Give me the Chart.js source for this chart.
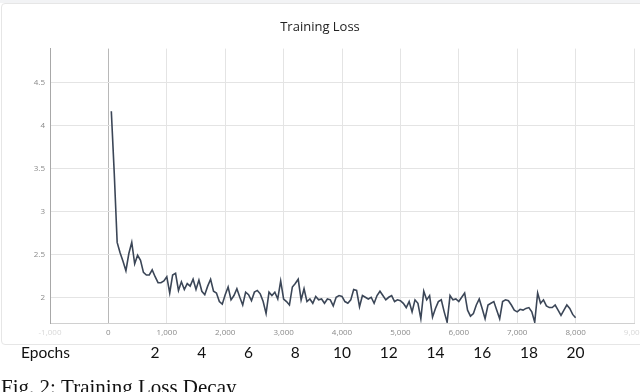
<!DOCTYPE html>
<html>
<head>
<meta charset="utf-8">
<script src="https://cdn.jsdelivr.net/npm/chart.js@4.4.1/dist/chart.umd.min.js"></script>
<style>
  html, body { margin: 0; padding: 0; background: #ffffff; }
  body { width: 640px; height: 392px; position: relative; overflow: hidden; }
  #strip { position: absolute; left: 0; top: 0; width: 640px; height: 3px; background: #f2f3f5; }
  #card { position: absolute; left: 1px; top: 3px; width: 700px; height: 340px; border: 1px solid #e6e6e6; border-radius: 4px; background: #fff; }
  #c { position: absolute; left: 0; top: 0; }
</style>
</head>
<body>
<div id="strip"></div>
<div id="card"></div>
<canvas id="c" width="640" height="392"></canvas>
<script>
// ---- data ----
const chartTitle = "Training Loss";
const steps = [50,100,150,200,250,300,350,400,450,500,550,600,650,700,750,800,850,900,950,1000,
  1050,1100,1150,1200,1250,1300,1350,1400,1450,1500,1550,1600,1650,1700,1750,1800,1850,1900,1950,2000,
  2050,2100,2150,2200,2250,2300,2350,2400,2450,2500,2550,2600,2650,2700,2750,2800,2850,2900,2950,3000,
  3050,3100,3150,3200,3250,3300,3350,3400,3450,3500,3550,3600,3650,3700,3750,3800,3850,3900,3950,4000,
  4050,4100,4150,4200,4250,4300,4350,4400,4450,4500,4550,4600,4650,4700,4750,4800,4850,4900,4950,5000,
  5050,5100,5150,5200,5250,5300,5350,5400,5450,5500,5550,5600,5650,5700,5750,5800,5850,5900,5950,6000,
  6050,6100,6150,6200,6250,6300,6350,6400,6450,6500,6550,6600,6650,6700,6750,6800,6850,6900,6950,7000,
  7050,7100,7150,7200,7250,7300,7350,7400,7450,7500,7550,7600,7650,7700,7750,7800,7850,7900,7950,8000];
const loss = [4.17,3.45,2.64,2.52,2.42,2.31,2.51,2.64,2.39,2.49,2.43,2.29,2.26,2.26,2.32,2.24,2.17,2.17,2.19,2.24,
  2.05,2.26,2.28,2.08,2.18,2.09,2.16,2.13,2.21,2.09,2.20,2.07,2.03,2.13,2.21,2.07,2.05,1.95,1.92,2.03,
  2.12,1.97,2.02,2.10,2.00,1.91,2.06,2.03,1.96,2.06,2.08,2.04,1.95,1.81,2.06,2.02,2.06,1.98,2.19,1.98,
  1.95,1.91,2.12,2.16,2.21,1.97,2.10,1.95,1.98,1.93,2.01,1.97,1.98,1.93,1.98,1.97,1.90,2.00,2.02,2.01,
  1.95,1.93,1.97,2.09,2.08,1.89,2.02,2.00,1.98,2.00,1.93,2.02,2.07,2.02,1.97,2.00,2.02,1.95,1.97,1.96,
  1.93,1.88,1.95,1.83,1.97,1.93,1.75,2.07,1.97,2.02,1.77,1.87,1.95,1.97,1.83,1.71,2.02,1.97,1.98,1.95,
  2.00,2.05,1.85,1.78,1.81,1.91,1.98,1.87,1.75,1.91,1.93,1.95,1.85,1.75,1.95,1.97,1.96,1.91,1.85,1.83,
  1.86,1.85,1.87,1.88,1.83,1.71,2.05,1.93,1.97,1.90,1.88,1.88,1.91,1.85,1.79,1.85,1.91,1.87,1.80,1.76];
const xRange = [-1000, 9000];
const xTickStep = 1000;
const yRange = [1.7, 4.9];
const yTickStep = 0.5;
const epochRowLabel = "Epochs";
const epochs = [2,4,6,8,10,12,14,16,18,20];
const stepsPerEpoch = 400;
const caption = "Fig. 2: Training Loss Decay";

// ---- chart ----
const points = steps.map((s, i) => ({ x: s, y: loss[i] }));

const epochRow = {
  id: 'epochRow',
  afterDraw(chart) {
    const ctx = chart.ctx;
    const xs = chart.scales.x;
    ctx.save();
    ctx.fillStyle = '#111111';
    ctx.font = '15.5px Lato';
    ctx.textBaseline = 'alphabetic';
    ctx.textAlign = 'left';
    ctx.fillText(epochRowLabel, 21, 358);
    ctx.textAlign = 'center';
    epochs.forEach(e => ctx.fillText(String(e), xs.getPixelForValue(e * stepsPerEpoch), 358));
    ctx.textAlign = 'left';
    ctx.font = '21px "Liberation Serif"';
    ctx.fillText(caption, 1, 394);
    ctx.restore();
  }
};

Chart.defaults.font.family = '"Open Sans", "Noto Sans", sans-serif';

new Chart(document.getElementById('c'), {
  type: 'line',
  data: {
    datasets: [{
      data: points,
      borderColor: '#3b4657',
      borderWidth: 1.6,
      pointRadius: 0,
      tension: 0,
      fill: false
    }]
  },
  options: {
    responsive: false,
    animation: false,
    layout: { padding: { left: 0, right: 0, top: 0, bottom: 49 } },
    plugins: {
      legend: { display: false },
      tooltip: { enabled: false },
      title: {
        display: true,
        text: chartTitle,
        color: '#222222',
        font: { size: 13, weight: 'normal' },
        padding: { top: 19, bottom: 14 }
      }
    },
    scales: {
      x: {
        type: 'linear',
        min: xRange[0],
        max: xRange[1],
        ticks: {
          stepSize: xTickStep,
          padding: 5,
          font: { size: 8 },
          color: ctx => (ctx.tick && (ctx.tick.value === xRange[0] || ctx.tick.value === xRange[1])) ? '#d8d8d8' : '#8a8a8a',
          maxRotation: 0
        },
        grid: {
          drawTicks: false,
          color: ctx => (ctx.tick && ctx.tick.value === 0) ? '#b8b8b8' : '#e4e4e4',
          lineWidth: 1
        },
        border: { display: true, color: '#d0d0d0' },
        afterFit: s => { s.height = 20; s.paddingLeft = 0; s.paddingRight = 6; }
      },
      y: {
        min: yRange[0],
        max: yRange[1],
        ticks: {
          stepSize: yTickStep,
          padding: 5,
          font: { size: 8 },
          color: '#8a8a8a',
          callback: v => String(Number(v))
        },
        afterBuildTicks: s => {
          s.ticks = s.ticks.filter(t => Math.abs(t.value / yTickStep - Math.round(t.value / yTickStep)) < 1e-6);
        },
        grid: { drawTicks: false, color: '#e4e4e4', lineWidth: 1 },
        border: { display: true, color: '#a8a8a8' },
        afterFit: s => { s.width = 50; s.paddingTop = 0; s.paddingBottom = 0; }
      }
    }
  },
  plugins: [epochRow]
});
</script>
</body>
</html>
